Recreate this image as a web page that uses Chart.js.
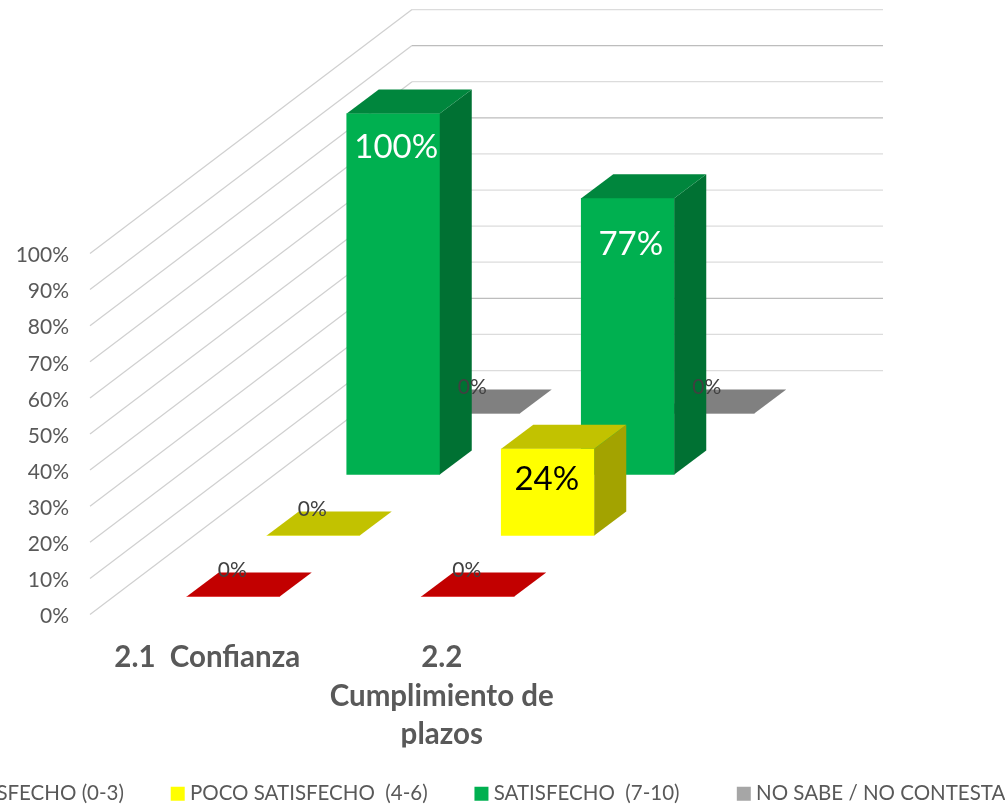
<!DOCTYPE html>
<html>
<head>
<meta charset="utf-8">
<style>
  html, body { margin: 0; padding: 0; background: #fff; overflow: hidden; width: 1005px; height: 805px; }
  canvas { position: absolute; left: -200px; top: 0; }
</style>
<script src="https://cdn.jsdelivr.net/npm/chart.js@4"></script>
</head>
<body>
<canvas id="myChart" width="1293" height="814"></canvas>
<script>
const categories = ["2.1  Confianza", ["2.2", "Cumplimiento de", "plazos"]];
const seriesNames = ["NADA SATISFECHO (0-3)", "POCO SATISFECHO  (4-6)", "SATISFECHO  (7-10)", "NO SABE / NO CONTESTA"];
const nadaValues = [0, 0];
const pocoValues = [0, 24];
const satisfechoValues = [100, 76.5];
const noSabeValues = [0, 0];
const seriesColors = ["#FF0000", "#FFFF00", "#00B050", "#A6A6A6"];

// 3D look: every series sits further back on the floor
const depthX = i => 26 + 80 * i;
const depthY = i => -18 - 61 * i;
const wallX = 322, wallY = 244, wallRight = 883 + 200;
const faceX = 32, faceY = 24;
// value label position relative to the top of the bar
const labelDrop = { 0: -26, 24: 30, 77: 46, 100: 34 };
const labelShift = { 0: 0, 24: 0, 77: 4, 100: 4 };
const darkLines = [90, 70, 20];
const legendSpaces = [3, 3, 5, 2];

function shade(hex, f) {
    const n = parseInt(hex.slice(1), 16);
    return "rgb(" + Math.round((n >> 16) * f) + "," + Math.round(((n >> 8) & 255) * f) + "," + Math.round((n & 255) * f) + ")";
}

const bars3d = {
    id: "bars3d",
    beforeDatasetsDraw(chart) {
        const { ctx, scales: { x, y } } = chart;
        ctx.save();
        ctx.lineWidth = 1.25;
        y.ticks.forEach(t => {
            const py = y.getPixelForValue(t.value);
            ctx.strokeStyle = "#D0D0D0";
            ctx.beginPath();
            ctx.moveTo(x.left, py);
            ctx.lineTo(x.left + wallX, py - wallY);
            ctx.stroke();
            ctx.strokeStyle = darkLines.includes(t.value) ? "#BDBDBD" : "#DCDCDC";
            ctx.beginPath();
            ctx.moveTo(x.left + wallX, py - wallY);
            ctx.lineTo(wallRight, py - wallY);
            ctx.stroke();
        });
        ctx.restore();
    },
    beforeDatasetDraw(chart, args) {
        chart.ctx.save();
        chart.ctx.translate(depthX(args.index), depthY(args.index));
    },
    afterDatasetDraw(chart, args) {
        const ctx = chart.ctx;
        const color = chart.data.datasets[args.index].backgroundColor;
        const top = args.index === 3 ? "#808080" : shade(color, 0.76);
        const side = shade(color, 0.64);
        args.meta.data.forEach(bar => {
            const l = bar.x - bar.width / 2, r = bar.x + bar.width / 2;
            ctx.fillStyle = side;
            ctx.beginPath();
            ctx.moveTo(r, bar.y);
            ctx.lineTo(r + faceX, bar.y - faceY);
            ctx.lineTo(r + faceX, bar.base - faceY);
            ctx.lineTo(r, bar.base);
            ctx.closePath();
            ctx.fill();
            ctx.fillStyle = top;
            ctx.beginPath();
            ctx.moveTo(l, bar.y);
            ctx.lineTo(l + faceX, bar.y - faceY);
            ctx.lineTo(r + faceX, bar.y - faceY);
            ctx.lineTo(r, bar.y);
            ctx.closePath();
            ctx.fill();
        });
        ctx.restore();
    },
    afterDatasetsDraw(chart) {
        const ctx = chart.ctx;
        ctx.save();
        ctx.textAlign = "center";
        ctx.textBaseline = "middle";
        chart.data.datasets.forEach((ds, i) => {
            chart.getDatasetMeta(i).data.forEach((bar, j) => {
                const v = Math.round(ds.data[j]);
                ctx.font = (v === 0 ? 21 : 33) + "px Lato";
                ctx.fillStyle = v === 0 ? "#404040" : (i === 1 ? "#000000" : "#FFFFFF");
                ctx.fillText(v + "%", bar.x + depthX(i) - 1 + labelShift[v], bar.y + depthY(i) + labelDrop[v]);
            });
        });
        ctx.restore();
    }
};

const seriesValues = [nadaValues, pocoValues, satisfechoValues, noSabeValues];

new Chart(document.getElementById("myChart").getContext("2d"), {
    type: "bar",
    data: {
        labels: categories,
        datasets: seriesNames.map((name, i) => ({
            label: name,
            data: seriesValues[i],
            backgroundColor: seriesColors[i],
            clip: false
        }))
    },
    plugins: [bars3d],
    options: {
        responsive: false,
        animation: false,
        grouped: false,
        barThickness: 93,
        layout: { padding: { top: 253.5 } },
        scales: {
            x: {
                grid: { display: false },
                border: { display: false },
                afterFit(scale) { scale.height = 133; },
                ticks: {
                    color: "#595959",
                    font: { family: "Lato", size: 29.5, weight: "bold", lineHeight: 1.305 },
                    padding: 16,
                    maxRotation: 0,
                    autoSkip: false
                }
            },
            y: {
                min: 0,
                max: 100,
                grid: { display: false, drawTicks: false },
                border: { display: false },
                afterFit(scale) { scale.width = 290; },
                ticks: {
                    stepSize: 10,
                    color: "#595959",
                    font: { family: "Lato", size: 21 },
                    padding: 21,
                    labelOffset: 2,
                    callback: v => v + "%"
                }
            },
            // empty axis, only keeps the plot narrower than the wide legend
            spacer: {
                position: "right",
                grid: { display: false },
                border: { display: false },
                ticks: { display: false },
                afterFit(scale) { scale.width = 534; }
            }
        },
        plugins: {
            tooltip: { enabled: false },
            legend: {
                position: "bottom",
                labels: {
                    color: "#595959",
                    font: { family: "Lato", size: 20.5 },
                    padding: 36,
                    boxWidth: 4,
                    boxHeight: 4,
                    generateLabels(chart) {
                        const items = Chart.defaults.plugins.legend.labels.generateLabels(chart);
                        items.forEach((item, i) => {
                            item.text += " ".repeat(legendSpaces[i]);
                            item.strokeStyle = item.fillStyle;
                            item.lineWidth = 10;
                        });
                        return items;
                    }
                }
            }
        }
    }
});
</script>
</body>
</html>
